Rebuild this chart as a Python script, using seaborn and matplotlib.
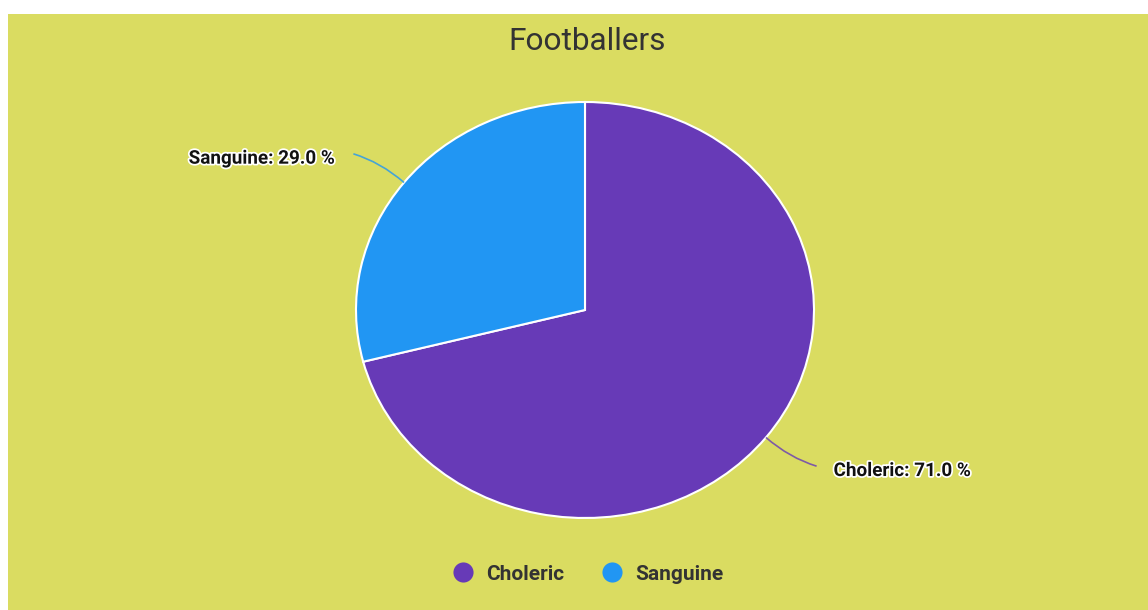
import numpy as np
import matplotlib
matplotlib.use("Agg")
import matplotlib.pyplot as plt
import matplotlib.patheffects as pe
from matplotlib.patches import Rectangle, PathPatch
from matplotlib.path import Path
from matplotlib.lines import Line2D
import seaborn as sns

# Data
categories = ["Choleric", "Sanguine"]
shares = [71.0, 29.0]
slice_colors = ["#673AB7", "#2196F3"]
title_text = "Footballers"

sns.set_theme(style="white")
plt.rcParams["font.family"] = ["Roboto", "DejaVu Sans"]

BG = "#DADC61"
TEXT = "#333333"

fig = plt.figure(figsize=(11.48, 6.10), dpi=100, facecolor="white")
# coloured panel with a thin white margin on the top and left
fig.patches.append(Rectangle((8 / 1148, 0), 1 - 8 / 1148, (610 - 14) / 610,
                             transform=fig.transFigure, facecolor=BG,
                             edgecolor="none", zorder=-10))

ax = fig.add_axes([356 / 1148, 92 / 610, 458 / 1148, 416 / 610])
ax.set_zorder(1)
ax.set_facecolor("none")
wedges, _ = ax.pie(shares, colors=slice_colors, startangle=90, counterclock=False,
                   radius=1.0, wedgeprops=dict(edgecolor="white", linewidth=1.5))
ax.set_aspect("auto")
ax.set_xlim(-1, 1)
ax.set_ylim(-1, 1)
ax.axis("off")

# curved leader lines and value labels
for w, name, val, col in zip(wedges, categories, shares, slice_colors):
    mid = np.deg2rad((w.theta1 + w.theta2) / 2)
    c, s = np.cos(mid), np.sin(mid)
    start = (1.0 * c, 1.0 * s)
    ctrl = (1.13 * c, 1.16 * s)
    end = (1.28 * c, 1.225 * s)
    path = Path([start, ctrl, end], [Path.MOVETO, Path.CURVE3, Path.CURVE3])
    ax.add_patch(PathPatch(path, facecolor="none", edgecolor=col, lw=1.2,
                           alpha=0.8, clip_on=False))
    ha = "left" if c > 0 else "right"
    dx = 12.2 if c > 0 else -13.5
    ax.annotate(f"{name}: {val:.1f} %", xy=end, xytext=(dx, -3.5),
                textcoords="offset points", ha=ha, va="center",
                fontsize=13.6, fontweight="bold", color="#111111",
                path_effects=[pe.withStroke(linewidth=2.5, foreground="white")],
                annotation_clip=False)

fig.text(587 / 1148, 1 - 42 / 610, title_text, ha="center", va="center",
         fontsize=22.8, color=TEXT)

handles = [Line2D([0], [0], marker="o", linestyle="none", markersize=14.5,
                  markerfacecolor=c, markeredgecolor="none") for c in slice_colors]
leg = fig.legend(handles, categories, loc="center", bbox_to_anchor=(583 / 1148, 36 / 610),
                 ncol=2, frameon=False, handletextpad=0.1, columnspacing=1.3,
                 prop=dict(weight="bold", size=15))
for t in leg.get_texts():
    t.set_color(TEXT)

fig.savefig("out.png", dpi=100, facecolor=fig.get_facecolor())
